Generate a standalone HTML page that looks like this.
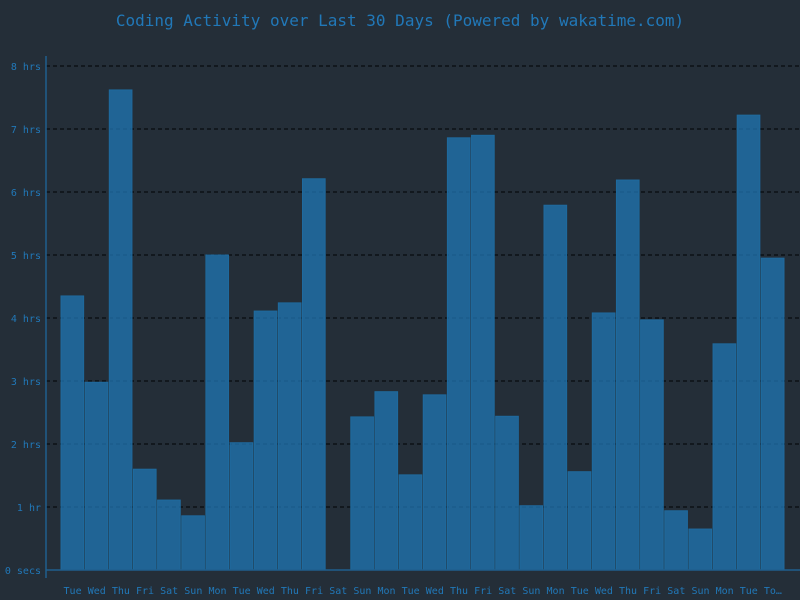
<!DOCTYPE html>
<html><head><meta charset="utf-8"><style>
html,body{margin:0;padding:0;background:#242e38;}
svg{display:block;font-family:"DejaVu Sans Mono","Liberation Mono",monospace;}
</style></head><body>
<svg id="chart" width="800" height="600">
<rect width="800" height="600" fill="#242e38"/>
<text x="400" y="26" text-anchor="middle" font-size="16" fill="#2178b8">Coding Activity over Last 30 Days (Powered by wakatime.com)</text>
<g id="grid"></g><g id="bars"></g><g id="axes"></g>
</svg>
<script>
const days = ["Tue","Wed","Thu","Fri","Sat","Sun","Mon","Tue","Wed","Thu","Fri","Sat","Sun","Mon","Tue","Wed","Thu","Fri","Sat","Sun","Mon","Tue","Wed","Thu","Fri","Sat","Sun","Mon","Tue","To…"];
const hours = [4.35,2.98,7.62,1.60,1.11,0.86,5.0,2.02,4.11,4.24,6.21,0,2.43,2.83,1.51,2.78,6.86,6.90,2.44,1.02,5.79,1.56,4.08,6.19,3.97,0.94,0.65,3.59,7.22,4.95];
const tickValues = [0,1,2,3,4,5,6,7,8];
const tickLabels = ["0 secs","1 hr","2 hrs","3 hrs","4 hrs","5 hrs","6 hrs","7 hrs","8 hrs"];
const NS="http://www.w3.org/2000/svg";
const y0=570, yTop=66, maxV=8, xStart=60.5, slot=24.15;
const yS=v=>y0-(v/maxV)*(y0-yTop);
const xS=i=>xStart+i*slot;
function mk(t,a,p){const e=document.createElementNS(NS,t);for(const k in a)e.setAttribute(k,a[k]);p.appendChild(e);return e;}
const grid=document.getElementById('grid'),bars=document.getElementById('bars'),axes=document.getElementById('axes');
tickValues.forEach((v,i)=>{
  if(v>0){const l=mk('line',{x1:46,x2:800,y1:yS(v),y2:yS(v),stroke:'#0d1115','stroke-width':1.5,'stroke-dasharray':'4,3'},grid);
  
  }
  const t=mk('text',{x:41,y:yS(v)+4,'text-anchor':'end','font-size':10,fill:'#2178b8'},axes);
  t.textContent=tickLabels[i];
  
  
});
hours.forEach((h,i)=>{
  const r=mk('rect',{x:xS(i)+0.5,y:yS(h),width:slot-1.5,height:y0-yS(h),fill:'rgba(31,119,180,0.75)',stroke:'#1f6a9e','stroke-width':1},bars);
  
  
  const t=mk('text',{x:xS(i)+slot/2,y:594,'text-anchor':'middle','font-size':10,fill:'#2178b8'},axes);
  t.textContent=days[i];
  
  
});
const ya=mk('line',{x1:46,x2:46,y1:56,y2:578,stroke:'#1f5f8e','stroke-width':1.5},axes);


const xa=mk('line',{x1:46,x2:800,y1:570,y2:570,stroke:'#1f5f8e','stroke-width':1.5},axes);


</script>
</body></html>
